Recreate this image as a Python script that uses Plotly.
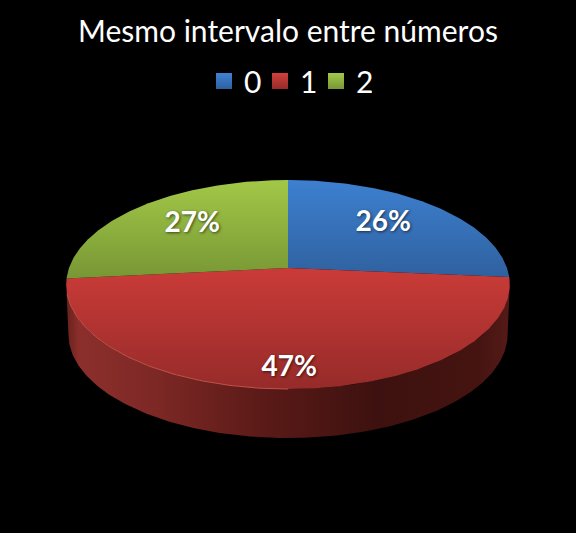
import numpy as np
import plotly.graph_objects as go

TITLE = "Mesmo intervalo entre números"
categories = ["0", "1", "2"]
shares = [26.4, 47.0, 26.6]

TOP_COLORS = [["#3d80d0", "#2f619f"], ["#ca3b38", "#962b29"], ["#a2c847", "#789735"]]
SIDE_STOPS = [[0, "#66201d"], [0.03, "#8c2f2c"], [0.2, "#7d2825"], [0.45, "#5a1a17"],
              [0.7, "#3d110f"], [0.93, "#451411"], [1, "#551a17"]]
SWATCH = ["#3f82d4", "#d0403c", "#a3c94a"]
SWATCH_END = ["#2f619f", "#962b29", "#789735"]
LABEL_R = [0.68, 0.86, 0.68]
LABEL_SQUEEZE = 0.93
FONT = "Lato, Carlito, sans-serif"

CX, CY = 288, 268
R, A, K = 219, 101.9, 0.158
DEPTH, BOTTOM_SCALE = 50.2, 0.99


def project(theta, r=1.0, dy=0.0, s=1.0):
    """Clockwise angle from 12 o'clock on the tilted disc, to plot coordinates."""
    u, v = r * np.sin(theta), -r * np.cos(theta)
    w = 1 - K * v
    return CX + s * R * u / w, CY + dy + s * A * v / w


fig = go.Figure()

# Rim below the front of the disc
front = np.linspace(np.pi / 2 + np.arcsin(K), 3 * np.pi / 2 - np.arcsin(K), 200)
tx, ty = project(front)
bx, by = project(front[::-1], dy=DEPTH, s=BOTTOM_SCALE)
fig.add_trace(go.Scatter(
    x=np.r_[tx, bx], y=np.r_[ty, by], mode="lines", fill="toself",
    line=dict(width=0), showlegend=False, hoverinfo="skip",
    fillgradient=dict(type="horizontal", colorscale=SIDE_STOPS, start=66, stop=510),
))

# Top-face slices, clockwise from 12 o'clock
edges = np.r_[0, np.cumsum(shares)] / sum(shares) * 2 * np.pi
for i, cat in enumerate(categories):
    t = np.linspace(edges[i], edges[i + 1], 160)
    x, y = project(t)
    px, py = np.r_[CX, x, CX], np.r_[CY, y, CY]
    fig.add_trace(go.Scatter(
        x=px, y=py, mode="lines", fill="toself", line=dict(width=0),
        showlegend=False, hoverinfo="skip",
        fillgradient=dict(type="vertical",
                          colorscale=[[0, TOP_COLORS[i][0]], [1, TOP_COLORS[i][1]]],
                          start=float(py.min()), stop=float(py.max())),
    ))
    # Legend key
    fig.add_trace(go.Scatter(
        x=[None], y=[None], mode="markers", name=cat,
        marker=dict(symbol="square", size=17, color=SWATCH[i], line=dict(width=0),
                    gradient=dict(type="vertical", color=SWATCH_END[i])),
    ))

# Thin highlight along the front-left edge of the disc
hl = np.linspace(np.pi, 3 * np.pi / 2 - 0.25, 80)
hx, hy = project(hl)
fig.add_trace(go.Scatter(x=hx, y=hy, mode="lines", showlegend=False, hoverinfo="skip",
                         line=dict(color="#c4524c", width=1)))

# Data labels
mids = (edges[:-1] + edges[1:]) / 2
lx, ly = project(mids, np.array(LABEL_R))
lx = CX + (lx - CX) * LABEL_SQUEEZE
fig.add_trace(go.Scatter(
    x=lx, y=ly, mode="text", showlegend=False, hoverinfo="skip",
    text=[f"{round(v)}%" for v in shares],
    textfont=dict(family=FONT, size=28, color="white", weight="bold",
                  shadow="1px 1px 3px rgba(0,0,0,0.6)"),
))

fig.update_layout(
    width=576, height=533, margin=dict(l=0, r=0, t=0, b=0),
    paper_bgcolor="black", plot_bgcolor="black",
    xaxis=dict(range=[0, 576], visible=False, fixedrange=True),
    yaxis=dict(range=[533, 0], visible=False, fixedrange=True),
    title=dict(text=TITLE, x=0.5, xanchor="center", y=1 - 31 / 533, yanchor="middle",
               font=dict(family=FONT, size=30, color="white")),
    legend=dict(orientation="h", x=0.5, xanchor="center", y=1 - 81 / 533, yanchor="middle",
                font=dict(family=FONT, size=30, color="white"),
                bgcolor="rgba(0,0,0,0)", itemwidth=30,
                entrywidth=11, entrywidthmode="pixels"),
    showlegend=True,
)
fig.write_html("out.html", config=dict(displayModeBar=False),
               post_script="document.body.style.margin='0';document.body.style.background='black';")
